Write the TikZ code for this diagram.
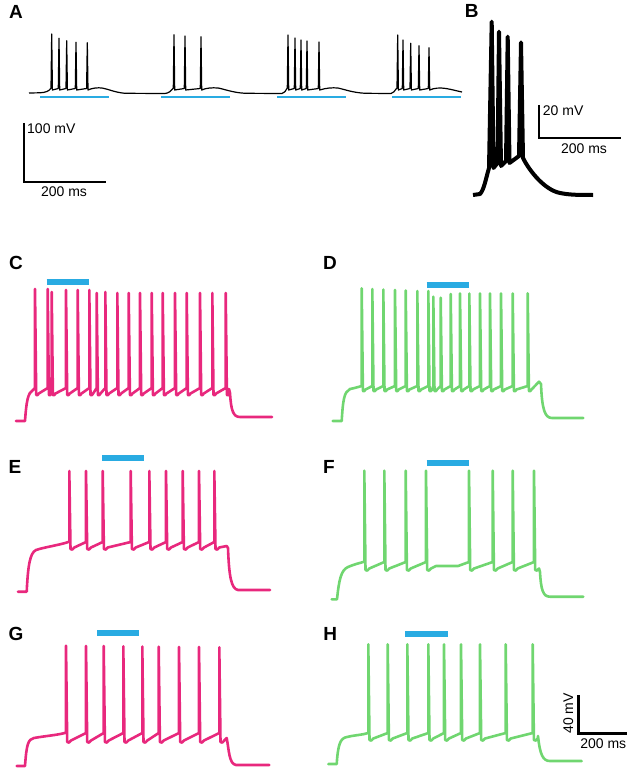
\documentclass[tikz,border=0pt]{standalone}
\usepackage{fontspec}
\setmainfont{Liberation Sans}
\usepackage{tikz}
\definecolor{tracepink}{RGB}{232,40,125}
\definecolor{tracegreen}{RGB}{112,214,112}
\definecolor{lightblue}{RGB}{41,171,226}
\tikzset{
  blackline/.style={line width=1.2pt, black, line join=round},
  thickline/.style={line width=4pt, black, line join=round},
  pinkline/.style={line width=2.6pt, tracepink, line join=round, line cap=round},
  greenline/.style={line width=2.6pt, tracegreen, line join=round, line cap=round},
  thinbar/.style={line width=2pt, lightblue},
  lightbar/.style={line width=6pt, lightblue},
  sbar/.style={line width=2pt, black},
  plabel/.style={inner sep=0pt, font=\fontsize{19}{21}\selectfont\bfseries},
  sblabel/.style={inner sep=0pt, font=\fontsize{14}{16}\selectfont}
}

\begin{document}
\begin{tikzpicture}[x=1pt, y=-1pt]
			%%%%% START %%%%%
			\useasboundingbox (0,0) rectangle (630,770);

			% panel labels
			\node[plabel] (labA) at (16,11.7) {A};
			\node[plabel] (labB) at (471.7,11) {B};
			\node[plabel] (labC) at (16,262.5) {C};
			\node[plabel] (labD) at (330,262.5) {D};
			\node[plabel] (labE) at (15,466.7) {E};
			\node[plabel] (labF) at (329,466.7) {F};
			\node[plabel] (labG) at (16,633.7) {G};
			\node[plabel] (labH) at (330.3,634) {H};

			% A
			\draw[blackline] (29,93) -- (40,92.8) .. controls (46,92.5) and (49,91) .. (50.8,88.5)
			  \foreach \s/\p in {51.7/34, 59/38.3, 66.7/40.7, 76/42.3, 87.3/42.7} { -- (\s-0.7,88.5) -- (\s,\p) -- (\s+0.7,90) }
			  .. controls (92,88) and (98,87.5) .. (102,88) .. controls (108,89) and (115,92.5) .. (125,93.3) -- (165,93.5)
			  .. controls (169,93) and (171,91) .. (173,88.5)
			  \foreach \s/\p in {174/34.7, 185/36, 201/36.7} { -- (\s-0.7,88.5) -- (\s,\p) -- (\s+0.7,90) }
			  .. controls (206,88) and (212,87.5) .. (218,88) .. controls (224,89) and (232,92.5) .. (245,93.3) -- (282,93.5)
			  .. controls (284,93) and (286,91) .. (287,88.5)
			  \foreach \s/\p in {288/35, 295/38, 301/40, 307/41, 319/42} { -- (\s-0.7,88.5) -- (\s,\p) -- (\s+0.7,90) }
			  .. controls (326,88) and (332,87.5) .. (338,88) .. controls (345,89.5) and (352,92.5) .. (365,93.3) -- (391,93.5)
			  .. controls (393,93) and (395,91) .. (396.5,88.5)
			  \foreach \s/\p in {397.7/35, 403/40, 410.7/43.3, 419/45.7, 429/47.7} { -- (\s-0.7,88.5) -- (\s,\p) -- (\s+0.7,90) }
			  .. controls (434,88) and (440,87.5) .. (446,88.5) .. controls (452,89.5) and (457,91) .. (462,92);
			\foreach \a/\b in {40/109, 161/230, 277/346, 392/461}
			  \draw[thinbar] (\a,97.3) -- (\b,97.3);
			\draw[sbar] (24,123) -- (24,182) -- (106,182);
			\node[sblabel, anchor=west] (sbAv) at (27,129) {100 mV};
			\node[sblabel] (sbAh) at (64,192) {200 ms};

			% B
			\draw[thickline] (473,195) -- (480,194) .. controls (484,190) and (486,178) .. (489,168)
			  -- (491.7,21.7) -- (493.5,168) -- (497.5,163) -- (499,31.7) -- (501,166) -- (506,161)
			  -- (507.7,36.7) -- (509.5,163) -- (519,156) -- (521,42.3) -- (523,158)
			  .. controls (530,172) and (545,190) .. (560,193) .. controls (570,195) and (580,195) .. (593,195);
			\draw[sbar] (539,105) -- (539,138) -- (621,138);
			\node[sblabel, anchor=west] (sbBv) at (542.7,110.5) {20 mV};
			\node[sblabel] (sbBh) at (584,148.7) {200 ms};

			% C
			\draw[pinkline] (16,421) -- (25,421) .. controls (26.5,400) and (28,393) .. (33,390)
			  \foreach \s/\p in {35/289, 47.7/289, 51.7/292, 66/290, 77.7/290, 89.3/290, 96.7/293, 105.3/292,
			    117.3/293, 128.7/293, 140/293, 151.7/293, 162.7/293, 175/293, 186.7/293, 200/293, 212.3/293, 225.7/293}
			  { -- (\s,388) -- (\s,\p) -- (\s+1.2,395) .. controls (\s+2.5,395.5) .. (\s+3.8,393.5) }
			  -- (229,389) -- (230,393) .. controls (231,410) and (233,417) .. (240,417) -- (272,417);
			\draw[lightbar] (46.7,282) -- (89.3,282);

			% D
			\draw[greenline] (332.7,421) -- (341.7,421) .. controls (343,400) and (344,392) .. (350,389)
			  .. controls (355,388) and (358,387) .. (360,386.5)
			  \foreach \s/\p in {361.7/288.3, 372.3/289, 383.3/289.5, 395/290, 405.7/290.5, 417.3/291, 428.3/291,
			    433.3/296.7, 440.7/297.7, 450.7/294, 460/293.5, 469.3/293.5, 480/293.5, 490/293.5, 501/293.5,
			    512.7/293.5, 527.7/293.3}
			  { -- (\s,386) -- (\s,\p) -- (\s+1.2,391) .. controls (\s+2.5,391.5) .. (\s+3.8,389.5) }
			  -- (539,381.7) -- (541,384) .. controls (542,410) and (545,418) .. (552,418) -- (583.3,418);
			\draw[lightbar] (426.7,285) -- (468.7,285);

			% E
			\draw[pinkline] (18,591.7) -- (26.7,591.7) .. controls (28,565) and (30,553) .. (36,550)
			  .. controls (45,547) and (60,545) .. (69.3,541.7)
			  \foreach \s in {69.3, 86, 102.7, 130.7, 149.3, 166, 182.7, 199, 214.3}
			  { -- (\s,542) -- (\s,471) -- (\s+1.2,549) .. controls (\s+3,550) .. (\s+5,547.5) }
			  -- (226.7,546) -- (228,548) .. controls (229,575) and (231,589) .. (238,590) -- (270,590);
			\draw[lightbar] (102.3,458.3) -- (144.3,458.3);

			% F
			\draw[greenline] (331.7,599.3) -- (337,599.3) .. controls (339,580) and (341,570) .. (348,567)
			  .. controls (355,564) and (360,563) .. (364.3,561.7)
			  \foreach \s in {364.3, 384.3, 405.7, 426} { -- (\s,562) -- (\s,470.7) -- (\s+1.2,570) .. controls (\s+3,571) .. (\s+5,568.5) }
			  -- (436,566) -- (458,566)
			  \foreach \s in {469, 492.7, 512.7, 534} { -- (\s,562) -- (\s,470.7) -- (\s+1.2,570) .. controls (\s+3,571) .. (\s+5,568.5) }
			  -- (540,572) .. controls (541,590) and (543,596.7) .. (550,596.7) -- (583.3,596.7);
			\draw[lightbar] (426.7,462.7) -- (469,462.7);

			% G
			\draw[pinkline] (16.7,766) -- (25,766) .. controls (26.5,745) and (28,739) .. (34,738)
			  .. controls (45,736) and (58,735) .. (66,732.7)
			  \foreach \s/\p in {66/645.7, 86/646, 103.7/646, 123.3/646.3, 142.3/646.5, 158.7/646.7, 179/647, 199/647, 219.3/647.3}
			  { -- (\s,733) -- (\s,\p) -- (\s+1.2,742) .. controls (\s+3,743) .. (\s+5,740.5) }
			  -- (226.7,738) .. controls (229,750) and (229,764) .. (236,765) -- (269.3,765);
			\draw[lightbar] (97.3,632.7) -- (139.3,632.7);

			% H
			\draw[greenline] (328.3,764) -- (336.7,764) .. controls (338,745) and (340,738) .. (347,737)
			  .. controls (355,735) and (362,735) .. (368.3,733)
			  \foreach \s in {368.3, 387.7, 407.3, 428.3, 444, 461, 480, 505.7, 532.7}
			  { -- (\s,733) -- (\s,644.3) -- (\s+1.2,740) .. controls (\s+3,741) .. (\s+5,738.5) }
			  -- (538,736) .. controls (540,755) and (543,761) .. (550,761) -- (581.7,761);
			\draw[lightbar] (405,634) -- (448.3,634);
			\draw[sbar, line width=3pt] (578.3,695) -- (578.3,733.3) -- (627.3,733.3);
			\node[sblabel, rotate=90] (sbHv) at (568.3,713.3) {40 mV};
			\node[sblabel] (sbHh) at (603.3,743.5) {200 ms};
			%%%%% END %%%%%
\end{tikzpicture}
\end{document}
